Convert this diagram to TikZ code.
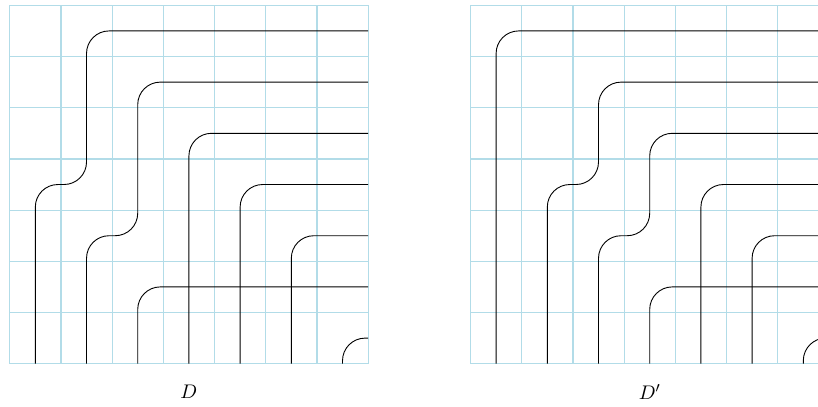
\documentclass[tikz,border=0pt]{standalone}
\usetikzlibrary{calc}
\definecolor{gridblue}{RGB}{178,220,232}

\begin{document}
\begin{tikzpicture}[
    gridline/.style={draw=gridblue, line width=0.65pt},
    strand/.style={draw=black, line width=0.5pt, rounded corners=0.44cm},
    caption/.style={font=\fontsize{11}{13}\selectfont}
]
    \useasboundingbox (-0.19,-0.826) rectangle (15.787,7.104);

    % the two grids
    \foreach \dx in {0,9} {
        \draw[gridline, shift={(\dx,0)}] (0,0) grid (7,7);
    }

    % diagram D
    \begin{scope}
        \draw[strand] (0.5,0) |- (1.5,3.5) |- (7,6.5);
        \draw[strand] (1.5,0) |- (2.5,2.5) |- (7,5.5);
        \foreach \x/\y in {2.5/1.5, 3.5/4.5, 4.5/3.5, 5.5/2.5, 6.5/0.5} {
            \draw[strand] (\x,0) |- (7,\y);
        }
        \node[caption] (labelD) at (3.5,-0.55) {$D$};
    \end{scope}

    % diagram D'
    \begin{scope}[xshift=9cm]
        \draw[strand] (0.5,0) |- (7,6.5);
        \draw[strand] (1.5,0) |- (2.5,3.5) |- (7,5.5);
        \draw[strand] (2.5,0) |- (3.5,2.5) |- (7,4.5);
        \foreach \x/\y in {3.5/1.5, 4.5/3.5, 5.5/2.5, 6.5/0.5} {
            \draw[strand] (\x,0) |- (7,\y);
        }
        \node[caption] (labelDp) at (3.5,-0.55) {$D'$};
    \end{scope}

\end{tikzpicture}
\end{document}
